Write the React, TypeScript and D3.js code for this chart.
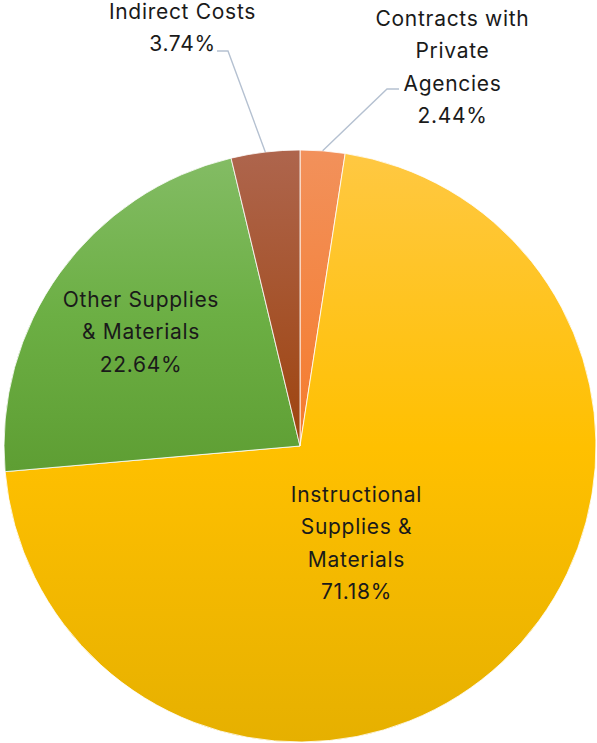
import React, { useEffect } from "react";
import * as d3 from "d3";

const categories = [
  "Contracts with Private Agencies",
  "Instructional Supplies & Materials",
  "Other Supplies & Materials",
  "Indirect Costs",
];
const values = [2.44, 71.18, 22.64, 3.74];
const labelLines = [
  ["Contracts with", "Private", "Agencies", "2.44%"],
  ["Instructional", "Supplies &", "Materials", "71.18%"],
  ["Other Supplies", "& Materials", "22.64%"],
  ["Indirect Costs", "3.74%"],
];

const W = 597;
const H = 743;
const CX = 300;
const CY = 446;
const R = 296;

const gradients = [
  ["#F2915B", "#F57B2C"],
  ["#FFC842", "#FFC000", "#E6B000"],
  ["#83BC64", "#6CAF44", "#5E9E33"],
  ["#AE654D", "#9E440E"],
];

// label anchor (x center, first baseline) and leader elbow
const labelLayout = [
  { x: 452.5, y: 26, leader: { hx1: 399, hx2: 387, hy: 89 } },
  { x: 356.5, y: 502, leader: null },
  { x: 141, y: 307, leader: null },
  { x: 182.5, y: 19, leader: { hx1: 217, hx2: 228, hy: 51 } },
];

export default function App() {
  useEffect(() => {
    document.body.style.margin = "0";
  }, []);
  const pie = d3
    .pie<number>()
    .sort(null)
    .value((d) => d)
    .startAngle(0)
    .endAngle(2 * Math.PI);
  const arcs = pie(values);
  const arcGen = d3.arc<d3.PieArcDatum<number>>().innerRadius(0).outerRadius(R);
  const lineH = 32.3;

  return (
    <svg width={W} height={H} style={{ display: "block" }}>
      <defs>
        {gradients.map((g, i) => (
          <linearGradient key={i} id={`g${i}`} x1="0" y1="0" x2="0" y2="1">
            {g.map((c, j) => (
              <stop key={j} offset={`${(j / (g.length - 1)) * 100}%`} stopColor={c} />
            ))}
          </linearGradient>
        ))}
      </defs>
      <g transform={`translate(${CX},${CY})`}>
        {arcs.map((a, i) => (
          <path
            key={categories[i]}
            d={arcGen(a) || ""}
            fill={`url(#g${i})`}
            stroke="#ffffff"
            strokeWidth={0.8}
          />
        ))}
      </g>
      {arcs.map((a, i) => {
        const L = labelLayout[i];
        if (!L.leader) return null;
        const mid = (a.startAngle + a.endAngle) / 2;
        const px = CX + R * Math.sin(mid);
        const py = CY - R * Math.cos(mid);
        const { hx1, hx2, hy } = L.leader;
        return (
          <polyline
            key={"l" + i}
            points={`${hx1},${hy} ${hx2},${hy} ${px},${py}`}
            fill="none"
            stroke="#B5C1D1"
            strokeWidth={1.4}
          />
        );
      })}
      {labelLines.map((lines, i) => (
        <text
          key={"t" + i}
          x={labelLayout[i].x}
          y={labelLayout[i].y}
          textAnchor="middle"
          fontFamily="Inter, sans-serif"
          fontSize={21}
          letterSpacing={0.7}
          fill="#1a1a1a"
        >
          {lines.map((ln, j) => (
            <tspan key={j} x={labelLayout[i].x} y={labelLayout[i].y + j * lineH}>
              {ln}
            </tspan>
          ))}
        </text>
      ))}
    </svg>
  );
}
